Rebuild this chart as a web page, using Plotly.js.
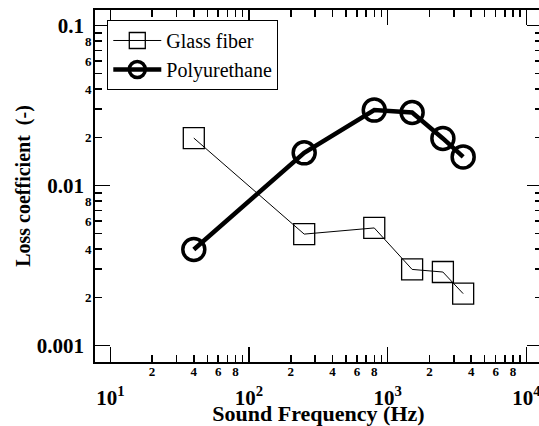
<!DOCTYPE html>
<html><head><meta charset="utf-8">
<script src="https://cdn.plot.ly/plotly-3.0.1.min.js"></script>
<style>html,body{margin:0;padding:0;overflow:hidden;background:#fff;width:539px;height:426px}</style>
</head><body><div id="chart"></div>
<script>
// Data
const freqHz = [40, 250, 800, 1500, 2500, 3500];
const glassFiber = [0.0198, 0.00497, 0.00543, 0.00299, 0.00288, 0.00211];
const polyurethane = [0.00398, 0.0160, 0.0296, 0.0286, 0.0197, 0.0151];
const seriesNames = ['Glass fiber', 'Polyurethane'];
const xMajorVals = [10, 100, 1000, 10000];
const xMajorText = ['10<sup>1</sup>', '10<sup>2</sup>', '10<sup>3</sup>', '10<sup>4</sup>'];
const yMajorVals = [0.001, 0.01, 0.1];
const yMajorText = ['0.001', '0.01', '0.1'];
const minorMult = [2, 3, 4, 5, 6, 7, 8, 9];
const minorLabel = ['2', '', '4', '', '6', '', '8', ''];
const xDecades = [10, 100, 1000];
const yDecades = [0.001, 0.01];

const xMinorVals = [], xMinorText = [];
xDecades.forEach(d => minorMult.forEach((m, i) => { xMinorVals.push(d * m); xMinorText.push(minorLabel[i]); }));
const yMinorVals = [], yMinorText = [];
yDecades.forEach(d => minorMult.forEach((m, i) => { yMinorVals.push(+(d * m).toPrecision(3)); yMinorText.push(minorLabel[i]); }));

const FONT = 'Liberation Serif, Times New Roman, serif';
const xRange = [0.8897, 4.1125];
const yRange = [-3.103, -0.903];

const traces = [
  {x: freqHz, y: glassFiber, name: seriesNames[0], type: 'scatter', mode: 'lines+markers',
   line: {color: '#000', width: 1},
   marker: {symbol: 'square-open', size: 21, color: '#000', line: {width: 1.3, color: '#000'}}},
  {x: freqHz, y: polyurethane, name: seriesNames[1], type: 'scatter', mode: 'lines+markers',
   line: {color: '#000', width: 4.5},
   marker: {symbol: 'circle-open', size: 22, color: '#000', line: {width: 3.5, color: '#000'}}}
];

const layout = {
  width: 542, height: 426,
  margin: {l: 95, r: 0, t: 10, b: 64},
  paper_bgcolor: '#fff', plot_bgcolor: '#fff',
  font: {family: FONT, color: '#000'},
  showlegend: true,
  legend: {x: 0.0275, y: 0.9716, xanchor: 'left', yanchor: 'top',
    bordercolor: '#000', borderwidth: 1, bgcolor: '#fff',
    font: {family: FONT, size: 20, color: '#000'}, itemwidth: 48, tracegroupgap: 0},
  xaxis: {type: 'log', range: xRange, showgrid: false, zeroline: false,
    showline: true, linecolor: '#000', linewidth: 2, mirror: 'ticks',
    ticks: 'inside', ticklen: 7, tickwidth: 1.5, tickcolor: '#000',
    tickmode: 'array', tickvals: xMinorVals, ticktext: xMinorText,
    tickfont: {family: FONT, size: 13, weight: 'bold'}, ticklabelstandoff: -4,
    title: {text: 'Sound Frequency (Hz)', font: {family: FONT, size: 22, weight: 'bold'}, standoff: 44}},
  xaxis2: {type: 'log', range: xRange, overlaying: 'x', side: 'bottom', anchor: 'y',
    showgrid: false, zeroline: false, showline: false, mirror: 'ticks',
    ticks: 'inside', ticklen: 15, tickwidth: 1.5, tickcolor: '#000',
    tickmode: 'array', tickvals: xMajorVals, ticktext: xMajorText,
    tickfont: {family: FONT, size: 21, weight: 'bold'}, ticklabelstandoff: 21},
  yaxis: {type: 'log', range: yRange, showgrid: false, zeroline: false,
    showline: true, linecolor: '#000', linewidth: 2, mirror: 'ticks',
    ticks: 'inside', ticklen: 7, tickwidth: 1.5, tickcolor: '#000',
    tickmode: 'array', tickvals: yMinorVals, ticktext: yMinorText,
    tickfont: {family: FONT, size: 13, weight: 'bold'}, ticklabelstandoff: -1,
    title: {text: 'Loss coefficient&nbsp;&nbsp;(-)', font: {family: FONT, size: 20, weight: 'bold'}, standoff: 49}},
  yaxis2: {type: 'log', range: yRange, overlaying: 'y', side: 'left', anchor: 'x',
    showgrid: false, zeroline: false, showline: false, mirror: 'ticks',
    ticks: 'inside', ticklen: 15, tickwidth: 1.5, tickcolor: '#000',
    tickmode: 'array', tickvals: yMajorVals, ticktext: yMajorText,
    tickfont: {family: FONT, size: 21, weight: 'bold'}, ticklabelstandoff: 10}
};

// invisible helper trace to activate overlay axes
traces.push({x: [100], y: [0.01], xaxis: 'x2', yaxis: 'y2', mode: 'markers', marker: {opacity: 0}, showlegend: false, hoverinfo: 'skip'});

Plotly.newPlot('chart', traces, layout, {staticPlot: true, displayModeBar: false});
</script></body></html>
